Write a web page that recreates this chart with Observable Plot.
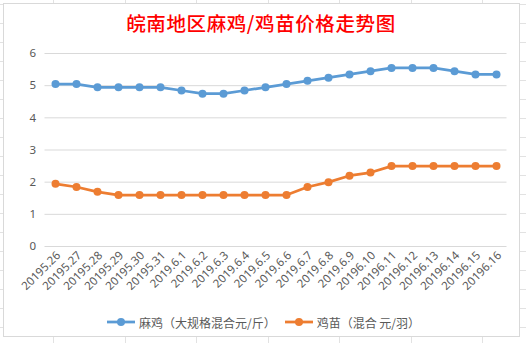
<!DOCTYPE html>
<html>
<head>
<meta charset="utf-8">
<script src="https://cdn.jsdelivr.net/npm/d3@7"></script>
<script src="https://cdn.jsdelivr.net/npm/@observablehq/plot@0.6"></script>
<style>
  html, body { margin: 0; padding: 0; }
  body {
    width: 526px; height: 343px; overflow: hidden; position: relative;
    background-color: #fff;
    background-image:
      repeating-linear-gradient(to bottom, transparent 0 4px, #e2e2e2 4px 5px, transparent 5px 19px),
      linear-gradient(to right, transparent 53px, #e2e2e2 53px 54px, transparent 54px 125px, #e2e2e2 125px 126px, transparent 126px 196px, #e2e2e2 196px 197px, transparent 197px 268px, #e2e2e2 268px 269px, transparent 269px 339px, #e2e2e2 339px 340px, transparent 340px 411px, #e2e2e2 411px 412px, transparent 412px 482px, #e2e2e2 482px 483px, transparent 483px);
    font-family: "Noto Sans CJK SC", "Noto Sans", sans-serif;
  }
  #frame {
    position: absolute; left: 3px; top: 3px; width: 517px; height: 334px;
    border: 1px solid #d9d9d9; background: #fff; box-sizing: border-box;
  }
  #title {
    position: absolute; left: 0; width: 522px; top: 11px; text-align: center;
    color: #ff0000; font-size: 19.5px; line-height: 24px; letter-spacing: 0.6px;
    font-family: "Noto Sans CJK SC", sans-serif; font-weight: 500;
  }
  #chart { position: absolute; left: 0; top: 0; }
  #legend {
    position: absolute; left: 0; width: 526px; top: 313px; text-align: center;
    font-size: 12px; color: #595959; line-height: 17px;
  }
  .item { display: inline-flex; align-items: center; margin: 0 4px; }
  .item svg { margin-right: 3px; }
</style>
</head>
<body>
<div id="frame"></div>
<div id="chart"></div>
<div id="title">皖南地区麻鸡/鸡苗价格走势图</div>
<div id="legend"></div>
<script>
const dates = ["20195.26","20195.27","20195.28","20195.29","20195.30","20195.31","2019.6.1","2019.6.2","2019.6.3","2019.6.4","2019.6.5","2019.6.6","2019.6.7","2019.6.8","2019.6.9","20196.10","20196.11","20196.12","20196.13","20196.14","20196.15","20196.16"];
const broiler = [5.05,5.05,4.95,4.95,4.95,4.95,4.85,4.75,4.75,4.85,4.95,5.05,5.15,5.25,5.35,5.45,5.55,5.55,5.55,5.45,5.35,5.35];
const chicks = [1.95,1.85,1.7,1.6,1.6,1.6,1.6,1.6,1.6,1.6,1.6,1.6,1.85,2.0,2.2,2.3,2.5,2.5,2.5,2.5,2.5,2.5];
const seriesNames = ["麻鸡（大规格混合元/斤）","鸡苗（混合 元/羽）"];
const colors = ["#5b9bd5","#ed7d31"];
const yTicks = [0,1,2,3,4,5,6];

const rows = [];
dates.forEach((d, i) => {
  rows.push({date: d, value: broiler[i], series: seriesNames[0]});
});
dates.forEach((d, i) => {
  rows.push({date: d, value: chicks[i], series: seriesNames[1]});
});

const chart = Plot.plot({
  width: 526,
  height: 343,
  marginTop: 53,
  marginBottom: 97,
  marginLeft: 44.5,
  marginRight: 19.5,
  style: {fontFamily: "'Noto Sans', 'Noto Sans CJK SC', sans-serif", fontSize: "11px", color: "#595959", background: "transparent", overflow: "visible"},
  x: {type: "point", domain: dates, padding: 0.5},
  y: {domain: [0, 6]},
  color: {domain: seriesNames, range: colors},
  marks: [
    Plot.gridY(yTicks, {stroke: "#d9d9d9", strokeOpacity: 1, strokeWidth: 1}),
    Plot.axisY(yTicks, {tickSize: 0, tickPadding: 9, label: null, fill: "#595959", fontSize: 11.5}),
    Plot.axisX({tickSize: 0, tickPadding: 7, tickRotate: -45, label: null, fill: "#595959", fontSize: 11.5, dx: 3}),
    Plot.line(rows, {x: "date", y: "value", z: "series", stroke: "series", strokeWidth: 2.75}),
    Plot.dot(rows, {x: "date", y: "value", fill: "series", r: 4})
  ]
});
document.getElementById("chart").appendChild(chart);

const legend = document.getElementById("legend");
seriesNames.forEach((name, i) => {
  const item = document.createElement("span");
  item.className = "item";
  item.innerHTML = `<svg width="30" height="10"><line x1="1" x2="29" y1="5" y2="5" stroke="${colors[i]}" stroke-width="2.75"/><circle cx="15" cy="5" r="4" fill="${colors[i]}"/></svg>${name}`;
  legend.appendChild(item);
});
</script>
</body>
</html>
